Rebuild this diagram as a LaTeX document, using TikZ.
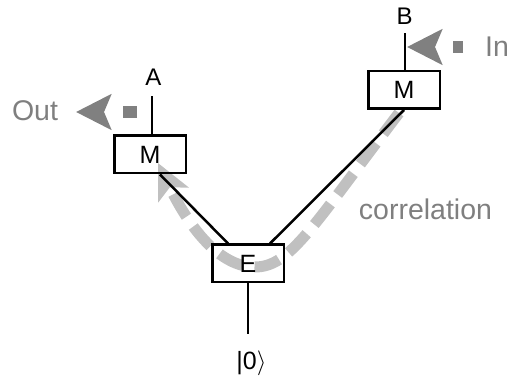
\documentclass[tikz,border=0pt]{standalone}
\usepackage{fontspec}
\setmainfont{Liberation Sans}
\usetikzlibrary{arrows.meta, calc}
\definecolor{arrowgray}{RGB}{128, 128, 128}
\definecolor{corrgray}{RGB}{192, 192, 192}
\definecolor{labelgray}{RGB}{127, 127, 127}

\begin{document}
\begin{tikzpicture}[x=1pt, y=1pt,
  wire/.style={line width=2.5pt},
  mbox/.style={draw, line width=2.5pt, minimum width=71.5pt, minimum height=37.5pt, inner sep=0pt, font=\fontsize{25}{27}\selectfont},
  portlab/.style={font=\fontsize{24}{26}\selectfont, inner sep=0pt},
  graylab/.style={font=\fontsize{28.5}{30}\selectfont, text=labelgray, inner sep=0pt},
  iotip/.style={-{Stealth[length=35pt, width=35pt, inset=7pt]}, arrowgray, line width=12pt},
  corrtip/.style={-{Stealth[length=35pt, width=33pt, inset=8pt]}, corrgray, line width=11pt, dash pattern=on 26pt off 12pt}]
  \useasboundingbox (0,0) rectangle (509,379);

  % correlation between the two ends
  \coordinate (corrstart) at (399,266);
  \coordinate (corrlow) at (255,112);
  \coordinate (corrtip) at (158,216);
  \draw[corrtip] (corrstart) .. controls (312,152) and (290,112) .. (corrlow)
    .. controls (220,112) and (190,150) .. (corrtip);
  \node[graylab, anchor=base] (corr) at (425.5,159) {correlation};

  % source and the two measurements
  \node[mbox] (E) at (248,115.5) {E};
  \node[mbox] (ML) at (150,224.5) {M};
  \node[mbox] (MR) at (404,289) {M};
  \draw[wire] ([xshift=-20]E.north) -- ([xshift=10]ML.south);
  \draw[wire] ([xshift=22]E.north) -- (MR.south);

  % input state
  \coordinate (Ein) at (248,45);
  \draw[wire] (E.south) -- (Ein);
  \node[portlab, font=\fontsize{25}{27}\selectfont] (ket) at (251.5,16) {|0$\rangle$};

  % ports A and B
  \coordinate (Aend) at (152,283);
  \coordinate (Bend) at (405,346);
  \draw[wire] (Aend |- ML.north) -- (Aend);
  \draw[wire] (Bend |- MR.north) -- (Bend);
  \node[portlab] (A) at (153.5,301.5) {A};
  \node[portlab] (B) at (404.5,363) {B};

  % Out and In
  \coordinate (outstart) at (137,267);
  \coordinate (outtip) at (76,267);
  \draw[iotip, dash pattern=on 14pt off 40pt] (outstart) -- (outtip);
  \node[graylab, anchor=base] (out) at (35,258) {Out};
  \coordinate (instart) at (463,332);
  \coordinate (intip) at (407,332);
  \draw[iotip, dash pattern=on 10pt off 40pt] (instart) -- (intip);
  \node[graylab, anchor=base west] (in) at (485,322) {In};
\end{tikzpicture}
\end{document}
